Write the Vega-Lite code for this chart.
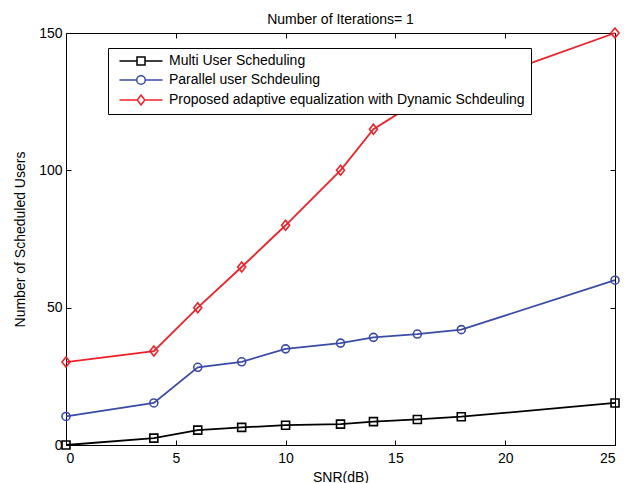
{
  "$schema": "https://vega.github.io/schema/vega-lite/v6.json",
  "width": 549,
  "height": 412,
  "autosize": {"type": "none"},
  "padding": {"left": 66, "top": 33, "right": 14, "bottom": 38},
  "background": "white",
  "title": {"text": "Number of Iterations= 1", "fontSize": 14, "fontWeight": "normal", "font": "Liberation Sans", "color": "black", "offset": -2},
  "data": {"values": [
    {"series": "Multi User Scheduling", "snr": 0, "users": 0},
    {"series": "Multi User Scheduling", "snr": 4, "users": 2.5},
    {"series": "Multi User Scheduling", "snr": 6, "users": 5.4},
    {"series": "Multi User Scheduling", "snr": 8, "users": 6.4},
    {"series": "Multi User Scheduling", "snr": 10, "users": 7.2},
    {"series": "Multi User Scheduling", "snr": 12.5, "users": 7.6},
    {"series": "Multi User Scheduling", "snr": 14, "users": 8.5},
    {"series": "Multi User Scheduling", "snr": 16, "users": 9.3},
    {"series": "Multi User Scheduling", "snr": 18, "users": 10.3},
    {"series": "Multi User Scheduling", "snr": 25, "users": 15.3},
    {"series": "Parallel user Schdeuling", "snr": 0, "users": 10.4},
    {"series": "Parallel user Schdeuling", "snr": 4, "users": 15.3},
    {"series": "Parallel user Schdeuling", "snr": 6, "users": 28.3},
    {"series": "Parallel user Schdeuling", "snr": 8, "users": 30.3},
    {"series": "Parallel user Schdeuling", "snr": 10, "users": 35},
    {"series": "Parallel user Schdeuling", "snr": 12.5, "users": 37.1},
    {"series": "Parallel user Schdeuling", "snr": 14, "users": 39.2},
    {"series": "Parallel user Schdeuling", "snr": 16, "users": 40.4},
    {"series": "Parallel user Schdeuling", "snr": 18, "users": 42},
    {"series": "Parallel user Schdeuling", "snr": 25, "users": 60},
    {"series": "Proposed adaptive equalization with Dynamic Schdeuling", "snr": 0, "users": 30.2},
    {"series": "Proposed adaptive equalization with Dynamic Schdeuling", "snr": 4, "users": 34.2},
    {"series": "Proposed adaptive equalization with Dynamic Schdeuling", "snr": 6, "users": 50},
    {"series": "Proposed adaptive equalization with Dynamic Schdeuling", "snr": 8, "users": 64.8},
    {"series": "Proposed adaptive equalization with Dynamic Schdeuling", "snr": 10, "users": 80},
    {"series": "Proposed adaptive equalization with Dynamic Schdeuling", "snr": 12.5, "users": 100},
    {"series": "Proposed adaptive equalization with Dynamic Schdeuling", "snr": 14, "users": 115},
    {"series": "Proposed adaptive equalization with Dynamic Schdeuling", "snr": 16, "users": 125},
    {"series": "Proposed adaptive equalization with Dynamic Schdeuling", "snr": 18, "users": 130},
    {"series": "Proposed adaptive equalization with Dynamic Schdeuling", "snr": 25, "users": 150}
  ]},
  "layer": [
    {
      "mark": {"type": "line", "strokeWidth": 1.8, "clip": false},
      "encoding": {
        "x": {"field": "snr", "type": "quantitative", "scale": {"domain": [0, 25], "nice": false}, "axis": {"title": "SNR(dB)", "values": [0, 5, 10, 15, 20, 25], "orient": "bottom"}},
        "y": {"field": "users", "type": "quantitative", "scale": {"domain": [0, 150], "nice": false}, "axis": {"title": "Number of Scheduled Users", "values": [0, 50, 100, 150], "orient": "left"}},
        "color": {"field": "series", "type": "nominal", "legend": {"title": null}, "scale": {"domain": ["Multi User Scheduling", "Parallel user Schdeuling", "Proposed adaptive equalization with Dynamic Schdeuling"], "range": ["#000000", "#3B4BA8", "#EE2229"]}}
      }
    },
    {
      "transform": [{"filter": "datum.series === 'Multi User Scheduling'"}],
      "mark": {"type": "point", "filled": false, "strokeWidth": 1.6, "size": 64, "opacity": 1, "shape": "square", "clip": false},
      "encoding": {
        "x": {"field": "snr", "type": "quantitative", "axis": null},
        "y": {"field": "users", "type": "quantitative", "axis": null},
        "color": {"field": "series", "type": "nominal", "legend": {"title": null}}
      }
    },
    {
      "transform": [{"filter": "datum.series === 'Parallel user Schdeuling'"}],
      "mark": {"type": "point", "filled": false, "strokeWidth": 1.6, "size": 64, "opacity": 1, "shape": "circle", "clip": false},
      "encoding": {
        "x": {"field": "snr", "type": "quantitative", "axis": null},
        "y": {"field": "users", "type": "quantitative", "axis": null},
        "color": {"field": "series", "type": "nominal", "legend": {"title": null}}
      }
    },
    {
      "transform": [{"filter": "datum.series === 'Proposed adaptive equalization with Dynamic Schdeuling'"}],
      "mark": {"type": "point", "filled": false, "strokeWidth": 1.6, "size": 64, "opacity": 1, "shape": "M0,-1.25L1,0L0,1.25L-1,0Z", "clip": false},
      "encoding": {
        "x": {"field": "snr", "type": "quantitative", "axis": null},
        "y": {"field": "users", "type": "quantitative", "axis": null},
        "color": {"field": "series", "type": "nominal", "legend": {"title": null}}
      }
    },
    {
      "transform": [{"filter": "datum.snr < -1"}],
      "mark": {"type": "point", "filled": false, "strokeWidth": 1.5, "opacity": 1},
      "encoding": {
        "x": {"field": "snr", "type": "quantitative", "axis": {"orient": "top", "labels": false, "title": null, "values": [0, 5, 10, 15, 20, 25], "domain": true}},
        "y": {"field": "users", "type": "quantitative", "axis": {"orient": "right", "labels": false, "title": null, "values": [0, 50, 100, 150], "domain": true}},
        "color": {"field": "series", "type": "nominal", "legend": {"title": null}},
        "shape": {"field": "series", "type": "nominal", "legend": {"title": null}, "scale": {"domain": ["Multi User Scheduling", "Parallel user Schdeuling", "Proposed adaptive equalization with Dynamic Schdeuling"], "range": [
          "M-4.3,0H-0.8M0.8,0H4.3M-0.8,-0.8H0.8V0.8H-0.8Z",
          "M-4.3,0H-0.85M0.85,0H4.3M-0.85,0A0.85,0.85 0 1,1 0.85,0A0.85,0.85 0 1,1 -0.85,0Z",
          "M-4.3,0H-0.75M0.75,0H4.3M0,-1L0.75,0L0,1L-0.75,0Z"
        ]}}
      }
    }
  ],
  "resolve": {"axis": {"x": "independent", "y": "independent"}},
  "config": {
    "font": "Liberation Sans",
    "view": {"stroke": "black", "strokeWidth": 1},
    "axis": {
      "grid": false,
      "domainColor": "black",
      "domainWidth": 1,
      "tickColor": "black",
      "tickSize": -5,
      "tickWidth": 1,
      "labelColor": "black",
      "labelFontSize": 14,
      "labelFont": "Liberation Sans",
      "labelPadding": 9,
      "titleColor": "black",
      "titleFontSize": 14,
      "titleFontWeight": "normal",
      "titleFont": "Liberation Sans"
    },
    "axisBottom": {"titlePadding": 5, "labelPadding": 11},
    "axisLeft": {"titlePadding": 11},
    "legend": {
      "orient": "none",
      "legendX": 42,
      "legendY": 15,
      "strokeColor": "black",
      "fillColor": "white",
      "padding": 6,
      "rowPadding": 4,
      "labelFontSize": 14,
      "labelFont": "Liberation Sans",
      "labelColor": "black",
      "labelLimit": 0,
      "symbolStrokeWidth": 1.5,
      "symbolSize": 100,
      "symbolOffset": 20,
      "labelOffset": 21
    }
  }
}
